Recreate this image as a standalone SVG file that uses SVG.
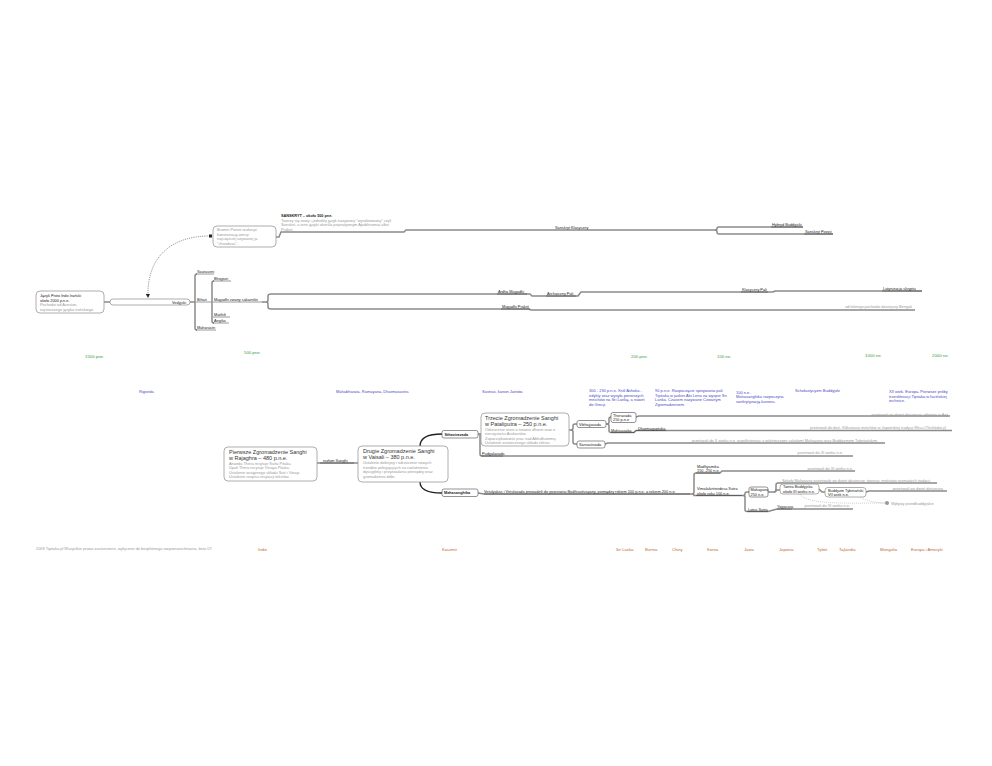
<svg xmlns="http://www.w3.org/2000/svg" width="992" height="766" viewBox="0 0 992 766">
<defs>
<style>
text{font-family:"Liberation Sans",Arial,sans-serif}
.lb{font-size:3.85px;fill:#222}
.lbb{font-size:3.8px;fill:#222;font-weight:bold}
.gr{font-size:3.9px;fill:#999}
.bl{font-size:4px;fill:#4a4ac0}
.gn{font-size:4.3px;fill:#3a9a3a}
.or{font-size:4.2px;fill:#c06a3a}
.ttl{font-size:5.5px;fill:#333}
.br{fill:none;stroke:#8a8a8a;stroke-width:1.5}
.ul{fill:none;stroke:#333;stroke-width:0.5}
.box{fill:#fff;stroke:#999;stroke-width:0.8}
.sbox{fill:#fff;stroke:#666;stroke-width:0.7}
.blk{fill:none;stroke:#222;stroke-width:1.3}
.dash{fill:none;stroke:#555;stroke-width:0.6;stroke-dasharray:1.2 1}
.dot{fill:none;stroke:#aaa;stroke-width:0.6;stroke-dasharray:1 1}
</style>
<marker id="arr" markerWidth="4" markerHeight="4" refX="2" refY="2" orient="auto" markerUnits="userSpaceOnUse"><path d="M0,0 L4,2 L0,4 Z" fill="#222"/></marker>
</defs>
<rect width="992" height="766" fill="#fff"/>

<g id="connectors">
<path class="br" d="M104,302 H110"/>
<path class="dash" d="M210,236 C170,236 147,258 148,296" marker-end="url(#arr)"/>
<rect x="209" y="234.5" width="3" height="3" fill="#222"/>
<path class="br" d="M276,237 H279 L281,232 H404 L406,230 H715"/>
<path class="br" d="M715,230 Q717,230 717,228.5 Q717,227 719,227 H803"/>
<path class="br" d="M715,230 Q717,230 717,232 Q717,234 719,234 H833"/>
<path class="br" d="M190,302 H195"/>
<path class="br" d="M197,274 Q195,274 195,276 V328 Q195,330 197,330"/>
<path class="ul" d="M196,274 H214 M196,302 H212 M196,330 H216"/>
<path class="br" d="M214,281 Q212,281 212,283 V321 Q212,323 214,323"/>
<path class="ul" d="M213,281 H231 M213,302 H263 M213,317 H230 M213,323 H229"/>
<path class="br" d="M262,302 H266 Q268,302 268,300 V296 Q268,294 271,294 H530 L532,296 H578 L581,292 H773 L775,291 H922"/>
<path class="br" d="M266,302 Q268,302 268,304 V307 Q268,309 271,309 H529 L531,310 H915"/>
<path class="ul" d="M497,294 H527 M546,296 H576 M741,292 H768 M882,291 H922 M501,309 H530 M771,227 H803 M804,234 H833"/>

<path class="br" d="M317,463 H358"/>
<path class="ul" d="M320,463 H354"/>
<path class="blk" d="M420,446 C420,437 430,434 442,434"/>
<path class="blk" d="M420,482 C420,490 430,493 442,493"/>
<path class="br" d="M478,434 H481"/>
<path class="br" d="M480,434 V454 Q480,456 482,456 H853"/>
<path class="ul" d="M481,456 H503"/>
<path class="br" d="M569,430 H571 Q573,430 573,428 V426 Q573,424 575,424 H577"/>
<path class="br" d="M571,430 Q573,430 573,432 V442 Q573,444 575,444 H577"/>
<path class="br" d="M606,424 H607 Q609,424 609,422 V419 Q609,417 611,417"/>
<path class="br" d="M607,424 Q609,424 609,426 V430.5 Q609,432.5 611,432.5 H634 L636,430.5 H952"/>
<path class="ul" d="M611,432.5 H634 L636,430.5 H666"/>
<path class="br" d="M636,417 L639,416 H950"/>
<path class="br" d="M605,444 L608,443 H885"/>
<path class="br" d="M478,493 L484,494 H692 Q694,494 694,492 V475 Q694,473 696,473 H720 L722,471 H855"/>
<path class="br" d="M692,494 Q694,494 694,495.5 H742"/>
<path class="ul" d="M484,494 H690 M696,473 H720 M696,495.5 H742"/>
<path class="br" d="M742,495.5 H743 Q745,495.5 745,494 V493 Q745,492 747,492 H749"/>
<path class="br" d="M743,495.5 Q745,495.5 745,497 V509.5 Q745,511.5 747,511.5 H768 L777,509 H853"/>
<path class="ul" d="M747,511.5 H768 M777,509 H792"/>
<path class="br" d="M768,492 H774 Q776,492 776,490 V485 Q776,483 778,483 H937"/>
<path class="br" d="M774,492 Q776,492 776,490 H780"/>
<path class="br" d="M819,489 L822,492 H825"/>
<path class="br" d="M866,492 L869,491 H947"/>
<path class="dot" d="M800,494 C806,505 850,503 886,503"/>
<path class="dot" d="M860,497 Q870,503 886,503"/>
<circle cx="887" cy="503" r="2" fill="#999"/>
</g>

<g id="proto">
<rect class="box" x="36" y="291" width="68" height="22" rx="4"/>
<text class="lb" x="40" y="297">Język Proto Indo Irański</text>
<text class="lb" x="40" y="301.5">około 2000 p.n.e.</text>
<text class="gr" x="40" y="306">Pochodzi od Avestan,</text>
<text class="gr" x="40" y="310.5">najstarszego języka irańskiego.</text>
</g>
<g id="vedyjski">
<rect class="box" x="110" y="299" width="80" height="6" rx="3"/>
<text class="lb" x="172" y="303.5">Vedyjski</text>
</g>
<g id="panini">
<rect class="box" x="213" y="226" width="63" height="21" rx="4"/>
<text class="gr" x="217" y="231">Bramin Panini realizuje</text>
<text class="gr" x="217" y="235.5">kanonizację wersji</text>
<text class="gr" x="217" y="240">najczęściej używanej ja</text>
<text class="gr" x="217" y="244.5">"chandasa".</text>
</g>
<g id="sanskryt">
<text class="lbb" x="281" y="217">SANSKRYT – około 500 pne.</text>
<text class="gr" x="281" y="221.5">Tworzy się nowy i jednolity język nazywany "wyrafinowany" czyli</text>
<text class="gr" x="281" y="226">Sanskrit, a inne języki określa pejoratywnym Apabhramsa albo</text>
<text class="gr" x="281" y="230.5">Prakrit.</text>
</g>
<g id="labels-top">
<text class="lb" x="555" y="229">Sanskryt Klasyczny</text>
<text class="lb" x="772" y="226">Hybryd Buddyjski</text>
<text class="lb" x="805" y="233">Sanskryt Poezji</text>
<text class="lb" x="197" y="273">Sauraseni</text>
<text class="lb" x="197" y="301">Bihari</text>
<text class="lb" x="197" y="329">Maharastri</text>
<text class="lb" x="214" y="280">Bhojpuri</text>
<text class="lb" x="214" y="301">Magadhi zwany sakarnikii</text>
<text class="lb" x="214" y="316">Maithili</text>
<text class="lb" x="214" y="322">Angika</text>
<text class="lb" x="498" y="293">Ardha Magadhi</text>
<text class="lb" x="547" y="295">Archaiczny Pali</text>
<text class="lb" x="742" y="291">Klasyczny Pali</text>
<text class="lb" x="883" y="290">Latynizacja skryptu</text>
<text class="lb" x="502" y="308">Magadhi Prakrit</text>
<text class="gr" x="912" y="308" text-anchor="end">od którego pochodzi dzisiejszy Bengali</text>
</g>

<g id="timeline">
<text class="gn" x="85" y="358">1500 pne.</text>
<text class="gn" x="244" y="354">500 pne.</text>
<text class="gn" x="631" y="358">200 pne.</text>
<text class="gn" x="717" y="358">100 ne.</text>
<text class="gn" x="865" y="357">1000 ne.</text>
<text class="gn" x="932" y="357">2000 ne.</text>
</g>
<g id="texts">
<text class="bl" x="139" y="393">Rigveda</text>
<text class="bl" x="336" y="393">Mahabharata, Ramayana, Dharmasastra</text>
<text class="bl" x="482" y="393">Sastras, kanon Jainów.</text>
<text class="bl" x="589" y="392">300 - 230 p.n.e. Król Ashoka -</text>
<text class="bl" x="589" y="396.5">edykty oraz wysyła pierwszych</text>
<text class="bl" x="589" y="401">mnichów na Sri Lankę, a nawet</text>
<text class="bl" x="589" y="405.5">do Grecji.</text>
<text class="bl" x="655" y="392">90 p.n.e. Rozpoczęcie spisywania pali</text>
<text class="bl" x="655" y="396.5">Tipitaka w jaskini Alu Lena na wyspie Sri</text>
<text class="bl" x="655" y="401">Lanka. Czasem nazywane Czwartym</text>
<text class="bl" x="655" y="405.5">Zgromadzeniem.</text>
<text class="bl" x="736" y="393.5">100 n.e.</text>
<text class="bl" x="736" y="398">Mahasanghika rozpoczyna</text>
<text class="bl" x="736" y="402.5">sankrytyzację kanonu.</text>
<text class="bl" x="795" y="392">Scholastycyzm Buddyjski</text>
<text class="bl" x="889" y="393">XII wiek. Europa. Pierwsze próby</text>
<text class="bl" x="889" y="397.5">transliteracji Tipitaka w łacińskiej</text>
<text class="bl" x="889" y="402">technice.</text>
</g>

<g id="pierwsze">
<rect class="box" x="224" y="447" width="93" height="34" rx="4"/>
<text class="ttl" x="229" y="453.5">Pierwsze Zgromadzenie Sanghi</text>
<text class="ttl" x="229" y="459.5">w Rajaghra – 480 p.n.e.</text>
<text class="gr" x="229" y="464.5">Ananda Thera recytuje Sutta Pitaka.</text>
<text class="gr" x="229" y="469">Upali Thera recytuje Vinaya Pitaka.</text>
<text class="gr" x="229" y="473.5">Ustalenie wstępnego układu Sutt i Vinayi.</text>
<text class="gr" x="229" y="478">Ustalenie rozpisu recytacji tekstów.</text>
</g>
<text class="lb" x="323" y="462">rozłam Sanghi</text>
<g id="drugie">
<rect class="box" x="358" y="446" width="90" height="36" rx="4"/>
<text class="ttl" x="363" y="452.5">Drugie Zgromadzenie Sanghi</text>
<text class="ttl" x="363" y="458.5">w Vaisali – 380 p.n.e.</text>
<text class="gr" x="363" y="464">Ustalenie doktryny i odrzucenie nowych</text>
<text class="gr" x="363" y="468.5">trendów polegających na rozluźnieniu</text>
<text class="gr" x="363" y="473">dyscypliny i przyzwalaniu pieniądzy oraz</text>
<text class="gr" x="363" y="477.5">gromadzenia dóbr.</text>
</g>
<g id="sthaviravada">
<rect class="sbox" x="442" y="430.5" width="36" height="7.5" rx="2"/>
<text class="lbb" x="444.5" y="435.7">Sthaviravada</text>
</g>
<g id="trzecie">
<rect class="box" x="481" y="413" width="88" height="33" rx="4"/>
<text class="ttl" x="485" y="419.5">Trzecie Zgromadzenie Sanghi</text>
<text class="ttl" x="485" y="425.5">w Pataliputra – 250 p.n.e.</text>
<text class="gr" x="485" y="430.5">Odrzucenie teorii o trwaniu dharm oraz o</text>
<text class="gr" x="485" y="435">nieczystości Arahantów.</text>
<text class="gr" x="485" y="439.5">Zapoczątkowanie prac nad Abhidhammą.</text>
<text class="gr" x="485" y="444">Ustalenie ostatecznego układu tekstu.</text>
</g>
<text class="lb" x="482" y="455">Pudgalavada</text>
<text class="gr" x="843" y="454" text-anchor="end">przetrwali do XI wieku n.e.</text>
<g id="vibhajjavada">
<rect class="sbox" x="577" y="420.5" width="29" height="7" rx="2"/>
<text class="lb" x="579" y="425.5">Vibhajjavada</text>
</g>
<g id="sarvastivada">
<rect class="sbox" x="577" y="441" width="28" height="7" rx="2"/>
<text class="lb" x="579" y="446">Sarvastivada</text>
</g>
<text class="gr" x="878" y="441.5" text-anchor="end">przetrwali do X wieku n.e. współistniejąc z późniejszymi szkołami Mahayany oraz Buddyzmem Tybetańskim.</text>
<g id="theravada">
<rect class="sbox" x="611" y="412.5" width="25" height="10" rx="2"/>
<text class="lb" x="613" y="416.8">Theravada</text>
<text class="lb" x="613" y="421">250 p.n.e</text>
</g>
<text class="gr" x="948" y="415.5" text-anchor="end">przetrwali po dzień dzisiejszy; głównie w Azji</text>
<text class="lb" x="611" y="431.5">Mahisasaka</text>
<text class="lb" x="638" y="429.5">Dharmaguptaka</text>
<text class="gr" x="946" y="429" text-anchor="end">przetrwali do dziś. Kilkunastu mnichów w Japońskiej tradycji Ritsu (Tōshōdai-ji)</text>
<g id="mahasanghika">
<rect class="sbox" x="442" y="489" width="36" height="7.5" rx="2"/>
<text class="lbb" x="444" y="494.3">Mahasanghika</text>
</g>
<text class="lb" x="484" y="493">Vetulyakas i Vetulavada prowadzili do powstania Bodhisattvayany, pomiędzy rokiem 100 p.n.e. a rokiem 200 n.e.</text>
<text class="lb" x="697" y="467.5">Madhyamika</text>
<text class="lb" x="697" y="472">150 -250 n.e.</text>
<text class="gr" x="853" y="470" text-anchor="end">przetrwali do XI wieku n.e.</text>
<text class="lb" x="697" y="490">Vimalakirtinirdesa Sutra</text>
<text class="lb" x="697" y="494.5">około roku 100 n.e.</text>
<g id="mahayana">
<rect class="sbox" x="749" y="487" width="19" height="10" rx="2"/>
<text class="lb" x="750.5" y="491.3">Mahayana</text>
<text class="lb" x="750.5" y="495.5">250 n.e.</text>
</g>
<text class="lb" x="748" y="510.5">Lotus Sutra</text>
<text class="gr" x="782" y="481.8">Szkoły Mahayany przetrwały po dzień dzisiejszy, tworząc mnóstwo rozmaitych tradycji</text>
<g id="tantra">
<rect class="box" x="780" y="484" width="39" height="10" rx="3"/>
<text class="lb" x="783" y="488.3">Tantra Buddyjska</text>
<text class="lb" x="783" y="492.5">około III wieku n.e.</text>
</g>
<g id="tybet">
<rect class="box" x="825" y="487.5" width="41" height="9.5" rx="3"/>
<text class="lb" x="828" y="491.5">Buddyzm Tybetański</text>
<text class="lb" x="828" y="495.7">VII wiek n.e.</text>
</g>
<text class="gr" x="943" y="489.8" text-anchor="end">przetrwali po dzień dzisiejszy</text>
<text class="lb" x="777" y="508">Yogacara</text>
<text class="gr" x="850" y="507" text-anchor="end">przetrwali do XI wieku n.e.</text>
<text class="gr" x="891" y="505">Wpływy przedbuddyjskie</text>

<g id="footer">
<text class="gr" x="36" y="550">2009 Tipitaka.pl Wszystkie prawa zastrzeżone, wyłącznie do bezpłatnego rozpowszechniania, beta 07.</text>
<text class="or" x="258" y="551">Indie</text>
<text class="or" x="442" y="551">Kaszmir</text>
<text class="or" x="616" y="551">Sri Lanka</text>
<text class="or" x="645" y="551">Burma</text>
<text class="or" x="672" y="551">Chiny</text>
<text class="or" x="707" y="551">Korea</text>
<text class="or" x="744" y="551">Jawa</text>
<text class="or" x="779" y="551">Japonia</text>
<text class="or" x="817" y="551">Tybet</text>
<text class="or" x="839" y="551">Tajlandia</text>
<text class="or" x="880" y="551">Mongolia</text>
<text class="or" x="911" y="551">Europa i Ameryki</text>
</g>
</svg>
